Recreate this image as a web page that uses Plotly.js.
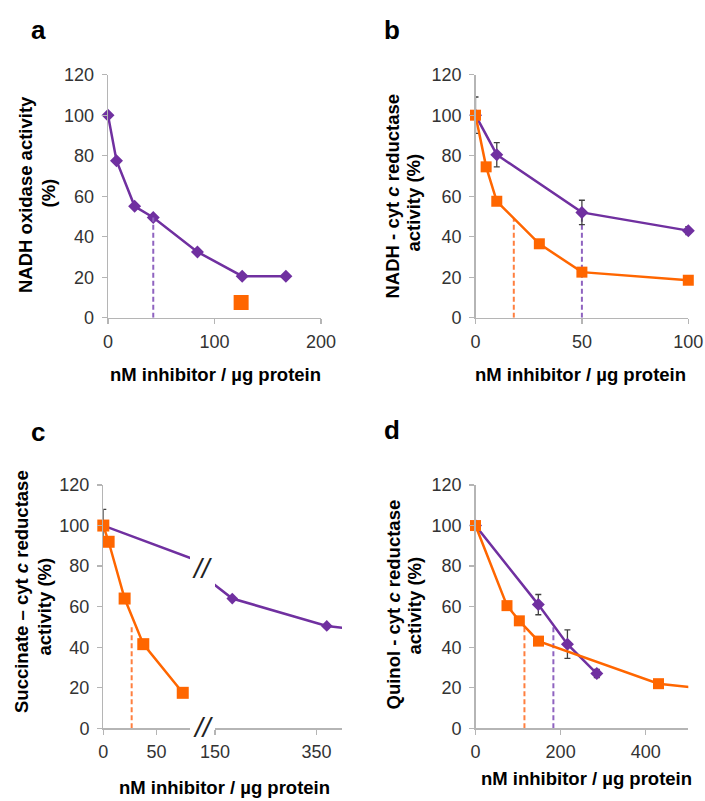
<!DOCTYPE html>
<html><head><meta charset="utf-8">
<script src="https://cdn.plot.ly/plotly-3.0.1.min.js"></script>
<style>html,body{margin:0;padding:0;background:#fff}#chart{width:705px;height:801px}</style>
</head><body><div id="chart"></div>
<script>
// ---------- data ----------
// Panel a: NADH oxidase
const aPurpleX = [0, 8, 25, 42.5, 84, 126, 167];
const aPurpleY = [100, 77.5, 55, 49.5, 32.5, 20.5, 20.5];
const aOrangeX = [125];
const aOrangeY = [7.5];
const aPurpleIC50X = [42.5, 42.5];
const aPurpleIC50Y = [0, 49.5];

// Panel b: NADH - cyt c reductase
const bPurpleX = [0, 10, 50, 100];
const bPurpleY = [100, 80.5, 52, 43];
const bPurpleErr = [9, 6, 6, 2];
const bOrangeX = [0, 5, 10, 30, 50, 100];
const bOrangeY = [100, 74.5, 57.5, 36.5, 22.5, 18.5];
const bOrangeIC50X = [18, 18];
const bOrangeIC50Y = [0, 49];
const bPurpleIC50X = [50, 50];
const bPurpleIC50Y = [0, 52];

// Panel c: Succinate - cyt c reductase (broken x axis)
const cPurpleX = [0, 184, 370, 500];
const cPurpleY = [100, 64, 50.5, 46.5];
const cPurpleErr = [8, 0, 0, 0];
const cOrangeX = [0, 5, 20, 37.5, 74.5];
const cOrangeY = [100, 92, 64, 41.5, 17.5];
const cOrangeIC50X = [26.6, 26.6];
const cOrangeIC50Y = [0, 50];

// Panel d: Quinol - cyt c reductase
const dPurpleX = [0, 147.6, 216, 285];
const dPurpleY = [100, 61, 41.5, 27];
const dPurpleErr = [0, 5, 7, 2];
const dOrangeX = [0, 74, 103, 148, 430, 700];
const dOrangeY = [100, 60.5, 53, 43, 22, 16];
const dOrangeIC50X = [115, 115];
const dOrangeIC50Y = [0, 50];
const dPurpleIC50X = [183, 183];
const dPurpleIC50Y = [0, 50];

// ticks
const yTicks = [0, 20, 40, 60, 80, 100, 120];
const aXTicks = [0, 100, 200];
const bXTicks = [0, 50, 100];
const c1XTicks = [0, 50];
const c2XTicks = [150, 350];
const dXTicks = [0, 200, 400];

// ---------- styling ----------
const W = 705, H = 801;
const px = v => v / W;
const py = v => 1 - v / H;
const PURPLE = '#7030A0', ORANGE = '#FF6600';
const PURPLE_D = '#8F63C0', ORANGE_D = '#FF7F3F';
const FONT = 'Liberation Sans, Arial, sans-serif';
const AXC = '#B5B5B5';
const TICKSIZE = 18, TITLESIZE = 18.5;

function xax(d0, d1, range, ticks, anchor) {
  return {domain: [px(d0), px(d1)], range: range, tickvals: ticks, ticktext: ticks.map(String),
    anchor: anchor, showline: true, linecolor: AXC, linewidth: 1.3, ticks: 'outside', ticklen: 5,
    tickcolor: AXC, tickwidth: 1.3, showgrid: false, zeroline: false, ticklabelstandoff: 2,
    tickfont: {family: FONT, size: TICKSIZE, color: '#333'}, fixedrange: true};
}
function yax(d0, d1, anchor) {
  return {domain: [py(d1), py(d0)], range: [0, 120], tickvals: yTicks, ticktext: yTicks.map(String),
    anchor: anchor, showline: true, linecolor: AXC, linewidth: 1.3, ticks: 'outside', ticklen: 5,
    tickcolor: AXC, tickwidth: 1.3, showgrid: false, zeroline: false, ticklabelstandoff: 4,
    tickfont: {family: FONT, size: TICKSIZE, color: '#333'}, fixedrange: true};
}
function series(x, y, xa, ya, color, symbol, size, err, clip) {
  const t = {x: x, y: y, xaxis: xa, yaxis: ya, type: 'scatter', mode: 'lines+markers',
    line: {color: color, width: 2.5}, marker: {color: color, symbol: symbol, size: size},
    cliponaxis: !!clip, hoverinfo: 'skip'};
  if (err) t.error_y = {type: 'data', array: err, visible: true, color: '#404040', thickness: 1.3, width: 3};
  return t;
}
function dashed(x, y, xa, ya, color) {
  return {x: x, y: y, xaxis: xa, yaxis: ya, type: 'scatter', mode: 'lines',
    line: {color: color, width: 2, dash: '5px,3px'}, hoverinfo: 'skip'};
}

const traces = [
  // a
  series(aPurpleX, aPurpleY, 'x', 'y', PURPLE, 'diamond', 10, null, false),
  {x: aOrangeX, y: aOrangeY, xaxis: 'x', yaxis: 'y', type: 'scatter', mode: 'markers',
   marker: {color: ORANGE, symbol: 'square', size: 15}, hoverinfo: 'skip', cliponaxis: false},
  dashed(aPurpleIC50X, aPurpleIC50Y, 'x', 'y', PURPLE_D),
  // b
  dashed(bOrangeIC50X, bOrangeIC50Y, 'x2', 'y2', ORANGE_D),
  dashed(bPurpleIC50X, bPurpleIC50Y, 'x2', 'y2', PURPLE_D),
  series(bPurpleX, bPurpleY, 'x2', 'y2', PURPLE, 'diamond', 10, bPurpleErr, false),
  series(bOrangeX, bOrangeY, 'x2', 'y2', ORANGE, 'square', 11, null, false),
  // c
  dashed(cOrangeIC50X, cOrangeIC50Y, 'x3', 'y3', ORANGE_D),
  series(cPurpleX, cPurpleY, 'x3', 'y3', PURPLE, 'diamond', 9, cPurpleErr, true),
  series(cPurpleX, cPurpleY, 'x4', 'y3', PURPLE, 'diamond', 9, null, true),
  series(cOrangeX, cOrangeY, 'x3', 'y3', ORANGE, 'square', 12, null, false),
  // d
  dashed(dOrangeIC50X, dOrangeIC50Y, 'x5', 'y4', ORANGE_D),
  dashed(dPurpleIC50X, dPurpleIC50Y, 'x5', 'y4', PURPLE_D),
  series(dPurpleX, dPurpleY, 'x5', 'y4', PURPLE, 'diamond', 10, dPurpleErr, false),
  series(dOrangeX, dOrangeY, 'x5', 'y4', ORANGE, 'square', 11, null, false)
];

function ann(text, cx, cy, size, angle, color) {
  return {text: text, x: px(cx), y: py(cy), xref: 'paper', yref: 'paper', showarrow: false,
    xanchor: 'center', yanchor: 'middle', textangle: angle || 0,
    font: {family: FONT, size: size, color: color || '#000', weight: 'bold'}};
}
function brk(cx, cy) {
  return {text: '//', x: px(cx), y: py(cy), xref: 'paper', yref: 'paper', showarrow: false,
    xanchor: 'center', yanchor: 'middle',
    font: {family: FONT, size: 28, color: '#222', style: 'italic'}};
}
const XT = 'nM inhibitor / µg protein';
const annotations = [
  ann('a', 38, 30, 26), ann('b', 392, 30, 26), ann('c', 38, 432, 26), ann('d', 392, 430, 26),
  ann('NADH oxidase activity', 25, 195, TITLESIZE, -90), ann('(%)', 47.5, 193, TITLESIZE, -90),
  ann('NADH - cyt <i>c</i> reductase', 392.5, 196, TITLESIZE, -90), ann('activity (%)', 413.5, 203, TITLESIZE, -90),
  ann('Succinate – cyt <i>c</i> reductase', 21, 592, TITLESIZE, -90), ann('activity (%)', 43.5, 607, TITLESIZE, -90),
  ann('Quinol - cyt <i>c</i> reductase', 392.5, 605, TITLESIZE, -90), ann('activity (%)', 413.5, 606, TITLESIZE, -90),
  ann(XT, 215, 374, TITLESIZE), ann(XT, 580, 374, TITLESIZE), ann(XT, 224, 787, TITLESIZE), ann(XT, 586, 778, TITLESIZE),
  brk(202, 568), brk(203, 727)
];

const layout = {
  width: W, height: H, margin: {l: 0, r: 0, t: 0, b: 0}, autosize: false,
  paper_bgcolor: '#fff', plot_bgcolor: 'rgba(0,0,0,0)', showlegend: false,
  xaxis: xax(108, 321, [0, 200], aXTicks, 'y'),
  yaxis: yax(74.7, 317.7, 'x'),
  xaxis2: xax(475.5, 688.3, [0, 100], bXTicks, 'y2'),
  yaxis2: yax(74.7, 317.7, 'x2'),
  xaxis3: xax(103.3, 190, [0, 81.3], c1XTicks, 'y3'),
  xaxis4: xax(215, 342, [150, 400], c2XTicks, 'y3'),
  yaxis3: yax(485, 728.3, 'x3'),
  xaxis5: xax(475.5, 688.3, [0, 500], dXTicks, 'y4'),
  yaxis4: yax(485, 728.3, 'x5'),
  annotations: annotations
};
Plotly.newPlot('chart', traces, layout, {staticPlot: true, displayModeBar: false});
</script></body></html>
